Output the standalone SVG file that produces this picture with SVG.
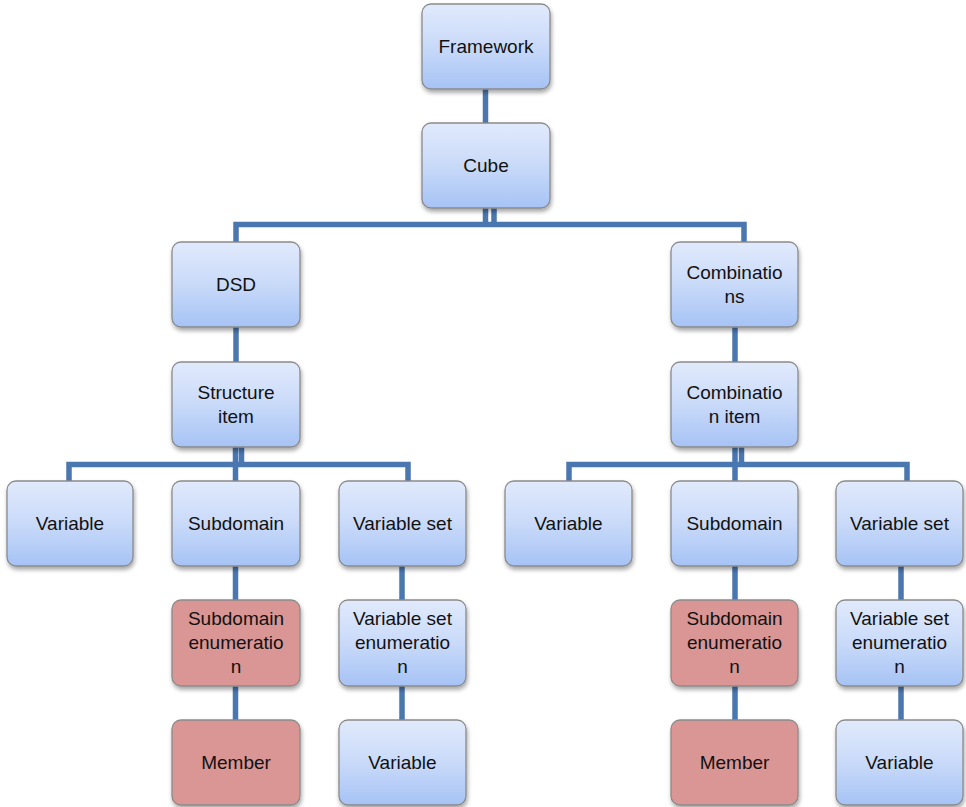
<svg xmlns="http://www.w3.org/2000/svg" width="966" height="807" viewBox="0 0 966 807">
  <defs>
    <linearGradient id="blueFill" x1="0" y1="0" x2="0" y2="1">
      <stop offset="0" stop-color="#e1eafc"/>
      <stop offset="0.5" stop-color="#c9daf9"/>
      <stop offset="1" stop-color="#a6c3f5"/>
    </linearGradient>
    <filter id="shadow" x="-10%" y="-10%" width="125%" height="130%">
      <feDropShadow dx="1" dy="3" stdDeviation="2" flood-color="#000" flood-opacity="0.35"/>
    </filter>
  </defs>
  <style>
    .box { stroke: #8a8a8a; stroke-width: 1.3; filter: url(#shadow); }
    .blue { fill: url(#blueFill); }
    .red { fill: #d99694; }
    .label { font-family: "Liberation Sans", Arial, sans-serif; font-size: 19px; fill: #111; text-anchor: middle; }
    .link { stroke: #4a77b0; stroke-width: 5.5; fill: none; stroke-linejoin: miter; stroke-linecap: butt; }
  </style>

  <rect width="966" height="807" fill="#fff"/>

  <!-- connectors -->
  <g id="connectors">
    <path class="link" d="M485.5 88 V123"/>
    <path class="link" d="M485.5 208 V224.5 M494 208 V224.5"/>
    <path class="link" d="M236 242 V224.5 H744 V242"/>
    <path class="link" d="M236 327 V362"/>
    <path class="link" d="M735 327 V362"/>
    <!-- under Structure item -->
    <path class="link" d="M235.5 447 V464.5 M241.5 447 V464.5"/>
    <path class="link" d="M69 481 V464.5 H408 V481 M235.5 464.5 V481"/>
    <!-- under Combination item -->
    <path class="link" d="M735 447 V464.5 M741.5 447 V464.5"/>
    <path class="link" d="M569 481 V464.5 H907 V481 M735 464.5 V481"/>
    <!-- lower chains -->
    <path class="link" d="M235.5 566 V600 M235.5 686 V720"/>
    <path class="link" d="M402 566 V600 M402 686 V720"/>
    <path class="link" d="M735 566 V600 M735 686 V720"/>
    <path class="link" d="M901 566 V600 M901 686 V720"/>
  </g>

  <g id="framework">
    <rect class="box blue" x="422" y="4" width="128" height="85" rx="9"/>
    <text class="label" x="486" y="53">Framework</text>
  </g>
  <g id="cube">
    <rect class="box blue" x="422" y="123" width="128" height="85" rx="9"/>
    <text class="label" x="486" y="172">Cube</text>
  </g>

  <g id="dsd">
    <rect class="box blue" x="172" y="242" width="128" height="85" rx="9"/>
    <text class="label" x="236" y="291">DSD</text>
  </g>
  <g id="combinations">
    <rect class="box blue" x="671" y="242" width="127" height="85" rx="9"/>
    <text class="label" x="734.5" y="279">Combinatio</text>
    <text class="label" x="734.5" y="303">ns</text>
  </g>

  <g id="structure-item">
    <rect class="box blue" x="172" y="362" width="128" height="85" rx="9"/>
    <text class="label" x="236" y="399">Structure</text>
    <text class="label" x="236" y="423">item</text>
  </g>
  <g id="combination-item">
    <rect class="box blue" x="671" y="362" width="127" height="85" rx="9"/>
    <text class="label" x="734.5" y="399">Combinatio</text>
    <text class="label" x="734.5" y="423">n item</text>
  </g>

  <!-- left branch -->
  <g id="variable-left">
    <rect class="box blue" x="7" y="481" width="126" height="85" rx="9"/>
    <text class="label" x="70" y="530">Variable</text>
  </g>
  <g id="subdomain-left">
    <rect class="box blue" x="172" y="481" width="128" height="85" rx="9"/>
    <text class="label" x="236" y="530">Subdomain</text>
  </g>
  <g id="variable-set-left">
    <rect class="box blue" x="339" y="481" width="127" height="85" rx="9"/>
    <text class="label" x="402.5" y="530">Variable set</text>
  </g>
  <g id="subdomain-enumeration-left">
    <rect class="box red" x="172" y="600" width="128" height="86" rx="9"/>
    <text class="label" x="236" y="625">Subdomain</text>
    <text class="label" x="236" y="649">enumeratio</text>
    <text class="label" x="236" y="673">n</text>
  </g>
  <g id="variable-set-enumeration-left">
    <rect class="box blue" x="339" y="600" width="127" height="86" rx="9"/>
    <text class="label" x="402.5" y="625">Variable set</text>
    <text class="label" x="402.5" y="649">enumeratio</text>
    <text class="label" x="402.5" y="673">n</text>
  </g>
  <g id="member-left">
    <rect class="box red" x="172" y="720" width="128" height="85" rx="9"/>
    <text class="label" x="236" y="769">Member</text>
  </g>
  <g id="variable-bottom-left">
    <rect class="box blue" x="339" y="720" width="127" height="85" rx="9"/>
    <text class="label" x="402.5" y="769">Variable</text>
  </g>

  <!-- right branch -->
  <g id="variable-right">
    <rect class="box blue" x="505" y="481" width="127" height="85" rx="9"/>
    <text class="label" x="568.5" y="530">Variable</text>
  </g>
  <g id="subdomain-right">
    <rect class="box blue" x="671" y="481" width="127" height="85" rx="9"/>
    <text class="label" x="734.5" y="530">Subdomain</text>
  </g>
  <g id="variable-set-right">
    <rect class="box blue" x="836" y="481" width="127" height="85" rx="9"/>
    <text class="label" x="899.5" y="530">Variable set</text>
  </g>
  <g id="subdomain-enumeration-right">
    <rect class="box red" x="671" y="600" width="127" height="86" rx="9"/>
    <text class="label" x="734.5" y="625">Subdomain</text>
    <text class="label" x="734.5" y="649">enumeratio</text>
    <text class="label" x="734.5" y="673">n</text>
  </g>
  <g id="variable-set-enumeration-right">
    <rect class="box blue" x="836" y="600" width="127" height="86" rx="9"/>
    <text class="label" x="899.5" y="625">Variable set</text>
    <text class="label" x="899.5" y="649">enumeratio</text>
    <text class="label" x="899.5" y="673">n</text>
  </g>
  <g id="member-right">
    <rect class="box red" x="671" y="720" width="127" height="85" rx="9"/>
    <text class="label" x="734.5" y="769">Member</text>
  </g>
  <g id="variable-bottom-right">
    <rect class="box blue" x="836" y="720" width="127" height="85" rx="9"/>
    <text class="label" x="899.5" y="769">Variable</text>
  </g>
</svg>
